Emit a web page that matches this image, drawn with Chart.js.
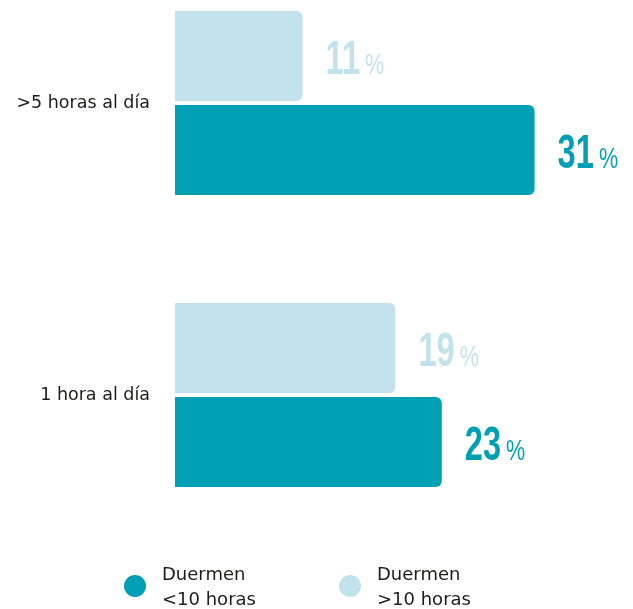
<!DOCTYPE html>
<html>
<head>
<meta charset="utf-8">
<script src="https://cdn.jsdelivr.net/npm/chart.js@4/dist/chart.umd.min.js"></script>
<style>
  html, body { margin: 0; padding: 0; background: #ffffff; }
  canvas { display: block; }
</style>
</head>
<body>
<canvas id="chart" width="633" height="609"></canvas>
<script>
// Screen time categories and share of children per sleep group (%)
const categories = ['>5 horas al día', '1 hora al día'];
const seriesNames = ['Duermen >10 horas', 'Duermen <10 horas'];
const sleepOver10 = [11, 19];
const sleepUnder10 = [31, 23];
const legendOrder = ['Duermen <10 horas', 'Duermen >10 horas'];
const legendLines = {
  'Duermen <10 horas': ['Duermen', '<10 horas'],
  'Duermen >10 horas': ['Duermen', '>10 horas']
};
const seriesColors = ['#c2e3eb', '#00a0b4'];
const textColor = '#1d1d1b';

// Value labels: condensed bold number followed by a lighter percent sign
const valueLabels = {
  id: 'valueLabels',
  afterDatasetsDraw(chart) {
    const ctx = chart.ctx;
    chart.data.datasets.forEach((ds, di) => {
      const meta = chart.getDatasetMeta(di);
      meta.data.forEach((bar, i) => {
        const txt = String(ds.data[i]);
        const x0 = bar.x + 23;
        const baseline = bar.y + 18;
        const sx = 0.68;
        ctx.save();
        ctx.fillStyle = ds.backgroundColor;
        ctx.textAlign = 'left';
        ctx.textBaseline = 'alphabetic';
        ctx.font = 'bold 48px "Liberation Sans", Arial, sans-serif';
        const w = ctx.measureText(txt).width * sx;
        ctx.translate(x0, baseline);
        ctx.scale(sx, 1);
        ctx.fillText(txt, 0, 0);
        ctx.restore();

        ctx.save();
        ctx.fillStyle = ds.backgroundColor;
        ctx.textAlign = 'left';
        ctx.textBaseline = 'alphabetic';
        ctx.font = '30px "Liberation Sans", Arial, sans-serif';
        ctx.translate(x0 + w + 5, baseline);
        ctx.scale(0.72, 1);
        ctx.fillText('%', 0, 0);
        ctx.restore();
      });
    });
  }
};

// Legend: dot + two-line label for each series, centred under the bars
const dotLegend = {
  id: 'dotLegend',
  afterDraw(chart) {
    const ctx = chart.ctx;
    const slots = [135, 350];
    const cy = 586;
    legendOrder.forEach((name, k) => {
      const di = chart.data.datasets.findIndex(d => d.label === name);
      const ds = chart.data.datasets[di];
      const cx = slots[k];
      ctx.save();
      ctx.fillStyle = ds.backgroundColor;
      ctx.beginPath();
      ctx.arc(cx, cy, 11, 0, Math.PI * 2);
      ctx.fill();
      ctx.fillStyle = textColor;
      ctx.font = '18px "DejaVu Sans", sans-serif';
      ctx.textAlign = 'left';
      ctx.textBaseline = 'alphabetic';
      const lines = legendLines[name];
      ctx.fillText(lines[0], cx + 27, 580);
      ctx.fillText(lines[1], cx + 27, 605);
      ctx.restore();
    });
  }
};

new Chart(document.getElementById('chart'), {
  type: 'bar',
  data: {
    labels: categories,
    datasets: [
      {
        label: seriesNames[0],
        data: sleepOver10,
        backgroundColor: seriesColors[0],
        borderRadius: 6,
        borderSkipped: 'start',
        categoryPercentage: 0.6438,
        barPercentage: 0.9574,
        clip: false
      },
      {
        label: seriesNames[1],
        data: sleepUnder10,
        backgroundColor: seriesColors[1],
        borderRadius: 6,
        borderSkipped: 'start',
        categoryPercentage: 0.6438,
        barPercentage: 0.9574,
        clip: false
      }
    ]
  },
  options: {
    indexAxis: 'y',
    responsive: false,
    devicePixelRatio: 1,
    animation: false,
    layout: { padding: { top: 103, bottom: 214, left: 0, right: 52 } },
    plugins: {
      legend: { display: false },
      tooltip: { enabled: false }
    },
    scales: {
      x: {
        display: false,
        min: 0,
        max: 35
      },
      y: {
        offset: false,
        grid: { display: false, drawTicks: false },
        border: { display: false },
        ticks: {
          padding: 25,
          color: textColor,
          font: { family: '"DejaVu Sans", sans-serif', size: 17.5 }
        },
        afterFit(scale) { scale.width = 175; }
      }
    }
  },
  plugins: [valueLabels, dotLegend]
});
</script>
</body>
</html>
